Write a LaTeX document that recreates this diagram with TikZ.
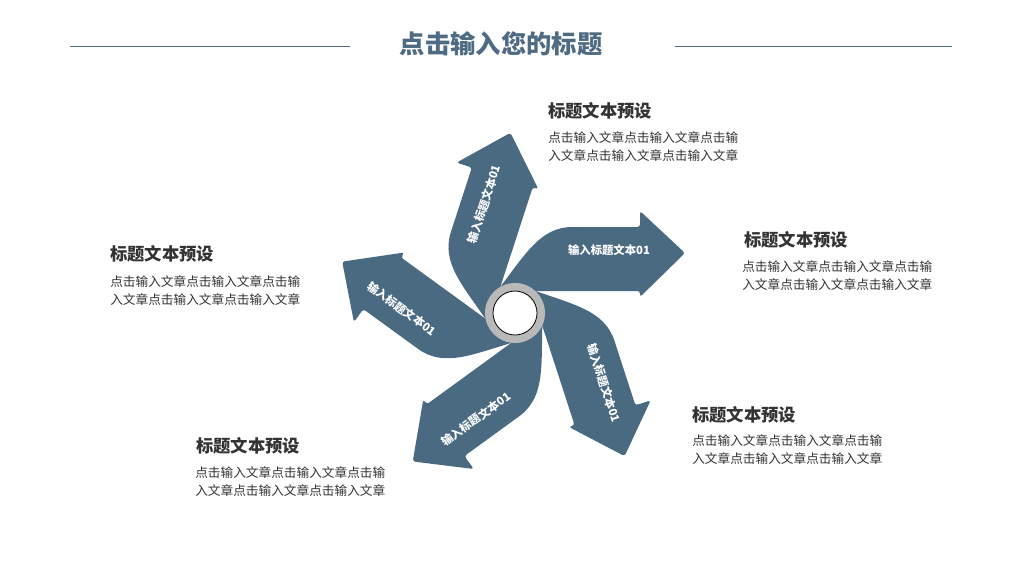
\documentclass[tikz,border=0pt]{standalone}
\usepackage{fontspec}
\newfontfamily\cjk{Noto Sans CJK SC}
\definecolor{arr}{HTML}{4A6A82}
\definecolor{ttl}{HTML}{4F6B84}
\definecolor{txt}{HTML}{333333}
\tikzset{
 head/.style={anchor=west,font=\cjk\fontsize{13}{14}\selectfont\bfseries,text=txt,inner sep=0},
 body/.style={anchor=north west,align=left,font=\cjk\fontsize{9.5}{13.8}\selectfont,text=txt,inner sep=0},
 albl/.style={font=\cjk\fontsize{8.5}{10}\selectfont\bfseries,text=white,inner sep=0}
}
\begin{document}
\begin{tikzpicture}[x=0.75pt,y=-0.75pt]
\useasboundingbox (0,0) rectangle (1024,576);
\node[font=\cjk\fontsize{19}{22}\selectfont\bfseries,text=ttl] (title) at (501,44) {点击输入您的标题};
\draw[ttl,line width=0.6pt] (70,46) -- (350,46) (675,46) -- (952,46);
\foreach \k/\f in {0/0,1/0,2/180,3/180,4/0}{
 \begin{scope}[shift={(515,313)},rotate=-72*\k]
  \fill[arr,rounded corners=2pt] (0,-10) -- (-18,-22) .. controls (10,-58) and (25,-86) .. (60,-86) -- (125,-86) -- (125,-102) -- (170,-60) -- (125,-16) -- (125,-22) -- (0,-22) -- cycle;
  \node[albl,rotate=-72*\k+\f] (l\k) at (94,-63) {输入标题文本01};
 \end{scope}
}
\fill[gray!55] (515,313) circle (30);
\draw[black,fill=white,line width=0.6pt] (515,313) circle (22);
\node[head] (h1) at (548,111) {标题文本预设};
\node[body] (b1) at (548,131) {点击输入文章点击输入文章点击输\\入文章点击输入文章点击输入文章};
\node[head] (h2) at (744,240) {标题文本预设};
\node[body] (b2) at (742,260) {点击输入文章点击输入文章点击输\\入文章点击输入文章点击输入文章};
\node[head] (h3) at (110,254) {标题文本预设};
\node[body] (b3) at (110,275) {点击输入文章点击输入文章点击输\\入文章点击输入文章点击输入文章};
\node[head] (h4) at (692,415) {标题文本预设};
\node[body] (b4) at (692,434) {点击输入文章点击输入文章点击输\\入文章点击输入文章点击输入文章};
\node[head] (h5) at (196,446) {标题文本预设};
\node[body] (b5) at (195,466) {点击输入文章点击输入文章点击输\\入文章点击输入文章点击输入文章};
\end{tikzpicture}
\end{document}
